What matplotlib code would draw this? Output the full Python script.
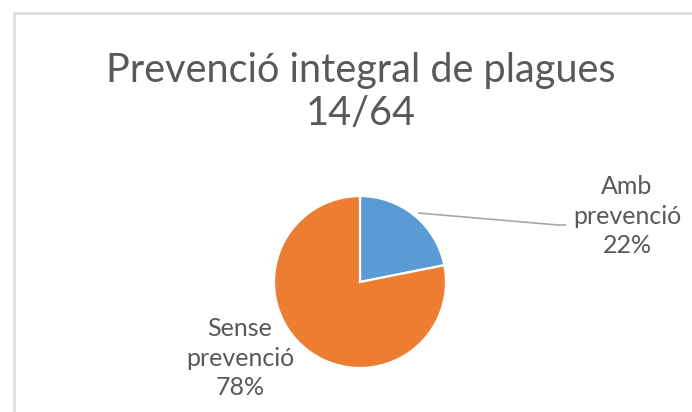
import matplotlib.pyplot as plt
from matplotlib.patches import Rectangle

# data
labels = ['Amb\nprevenció', 'Sense\nprevenció']
values = [14, 50]
colors = ['#5B9BD5', '#ED7D31']
title = 'Prevenció integral de plagues\n14/64'

W, H = 692, 412
text_color = '#595959'

plt.rcParams['font.family'] = ['Lato', 'DejaVu Sans']

fig = plt.figure(figsize=(W / 100, H / 100), dpi=100)
ax = fig.add_axes([0, 0, 1, 1])

# chart border (cropped on right and bottom)
ax.add_patch(Rectangle((14, -10), W, H - 13 + 10, fill=False,
                       edgecolor='#d9d9d9', linewidth=1.8))

# pie
cx, cy, r = 360, H - 282, 86
wedges, _ = ax.pie(values, colors=colors, startangle=90, counterclock=False,
                   center=(cx, cy), radius=r, frame=True,
                   wedgeprops=dict(edgecolor='white', linewidth=1.6))
ax.set_xlim(0, W)
ax.set_ylim(0, H)
ax.set_aspect('equal')
ax.axis('off')

total = sum(values)
pcts = [round(v / total * 100) for v in values]

# labels
label_pos = [(627, H - 216), (240, H - 358)]
for lab, p, (lx, ly) in zip(labels, pcts, label_pos):
    ax.text(lx, ly, f'{lab}\n{p}%', ha='center', va='center',
            fontsize=18, color=text_color, linespacing=1.33)

# leader line for the small slice
ax.plot([418, 558, 566], [H - 213, H - 225, H - 225], color='#a6a6a6',
        linewidth=1.2, solid_capstyle='butt')

ax.text(361, H - 92, title, ha='center', va='center', fontsize=28.5,
        color=text_color, linespacing=1.2)

fig.savefig('out.png', dpi=100)
